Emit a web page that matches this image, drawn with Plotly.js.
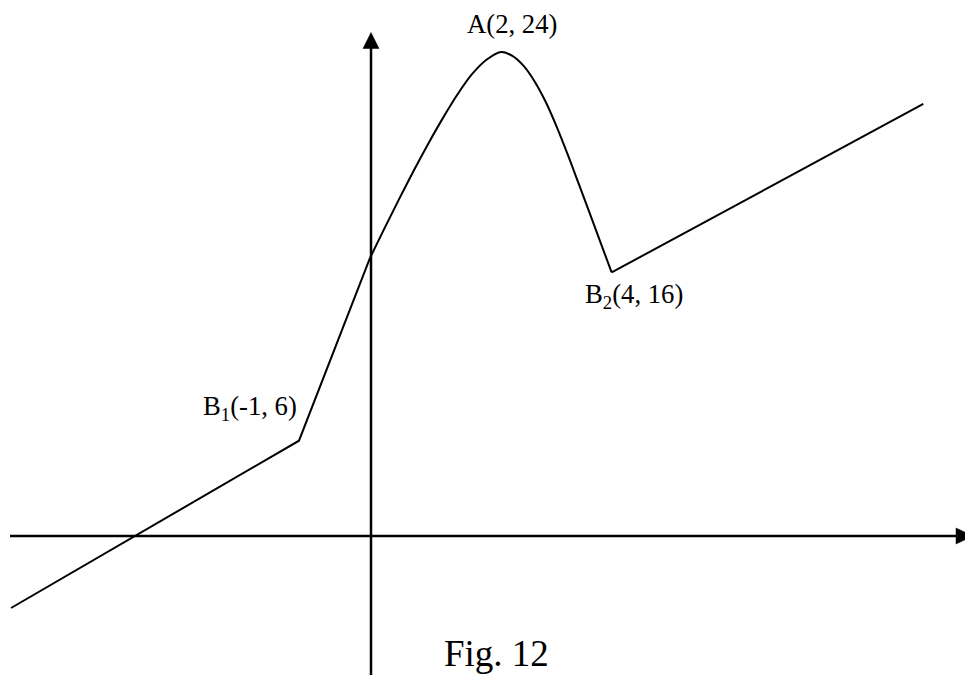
<!DOCTYPE html>
<html>
<head>
<meta charset="utf-8">
<script src="https://cdn.plot.ly/plotly-3.0.1.min.js"></script>
<style>html,body{margin:0;padding:0;background:#fff;}#chart{width:965px;height:675px;}</style>
</head>
<body>
<div id="chart"></div>
<script>
// Schematic figure values (in the figure's own drawn scale)
const leftX = [-5.538, -1.108, -0.015];
const leftY = [-3.573, 4.730, 13.80];

const curveX = [-0.015, 0.209, 0.434, 0.659, 0.883, 1.108, 1.332, 1.557, 1.782, 2.006,
                2.175, 2.345, 2.515, 2.685, 2.854, 3.023, 3.192, 3.363, 3.532, 3.702];
const curveY = [13.80, 15.28, 16.73, 18.14, 19.48, 20.75, 21.92, 22.93, 23.65, 24.02,
                23.83, 23.34, 22.57, 21.56, 20.33, 18.96, 17.51, 16.04, 14.56, 13.08];

const rightX = [3.702, 8.497];
const rightY = [13.08, 21.44];

const pointLabels = ["A(2, 24)", "B<sub>1</sub>(-1, 6)", "B<sub>2</sub>(4, 16)"];
const captionText = "Fig. 12";

const xRange = [-5.7077, 9.1385];
const yRange = [-6.898, 26.600];

const W = 965, H = 675;
function px2x(px) { return xRange[0] + px / W * (xRange[1] - xRange[0]); }
function py2y(py) { return yRange[1] - py / H * (yRange[1] - yRange[0]); }

const traces = [
  {x: leftX, y: leftY, mode: 'lines', line: {color: '#000', width: 2, shape: 'linear', simplify: false}, hoverinfo: 'skip'},
  {x: curveX, y: curveY, mode: 'lines', line: {color: '#000', width: 2, shape: 'spline', smoothing: 1, simplify: false}, hoverinfo: 'skip'},
  {x: rightX, y: rightY, mode: 'lines', line: {color: '#000', width: 2, shape: 'linear', simplify: false}, hoverinfo: 'skip'}
];

// axes with arrowheads (decoration)
const axisLine = {color: '#000', width: 2.5};
const xHead = 'M' + px2x(956) + ',' + py2y(528) + ' L' + px2x(973) + ',' + py2y(536) + ' L' + px2x(956) + ',' + py2y(544) + ' Z';
const yHead = 'M' + px2x(363) + ',' + py2y(48.5) + ' L' + px2x(371) + ',' + py2y(32.5) + ' L' + px2x(379) + ',' + py2y(48.5) + ' Z';
const shapes = [
  {type: 'line', xref: 'x', yref: 'y', x0: px2x(10), x1: px2x(958), y0: 0, y1: 0, line: axisLine},
  {type: 'line', xref: 'x', yref: 'y', x0: 0, x1: 0, y0: py2y(46), y1: py2y(680), line: axisLine},
  {type: 'path', xref: 'x', yref: 'y', path: xHead, fillcolor: '#000', line: {color: '#000', width: 0.5}},
  {type: 'path', xref: 'x', yref: 'y', path: yHead, fillcolor: '#000', line: {color: '#000', width: 0.5}}
];

const serif = "'Liberation Serif', 'Times New Roman', serif";
const labelFont = {family: serif, size: 26.7, color: '#000'};

const layout = {
  width: W, height: H,
  margin: {l: 0, r: 0, t: 0, b: 0, pad: 0},
  paper_bgcolor: '#fff', plot_bgcolor: '#fff',
  showlegend: false,
  xaxis: {range: xRange, visible: false, fixedrange: true},
  yaxis: {range: yRange, visible: false, fixedrange: true},
  shapes: shapes,
  annotations: [
    {xref: 'paper', yref: 'paper', x: 512.3/W, y: 1 - 23.5/H, xanchor: 'center', yanchor: 'middle',
     text: pointLabels[0], showarrow: false, font: labelFont},
    {xref: 'paper', yref: 'paper', x: 249.7/W, y: 1 - 407.5/H, xanchor: 'center', yanchor: 'middle',
     text: pointLabels[1], showarrow: false, font: labelFont},
    {xref: 'paper', yref: 'paper', x: 633.8/W, y: 1 - 296/H, xanchor: 'center', yanchor: 'middle',
     text: pointLabels[2], showarrow: false, font: labelFont},
    {xref: 'paper', yref: 'paper', x: 496.7/W, y: 1 - 653/H, xanchor: 'center', yanchor: 'middle',
     text: captionText, showarrow: false, font: {family: serif, size: 37, color: '#000'}}
  ]
};

Plotly.newPlot('chart', traces, layout, {staticPlot: true, displayModeBar: false});
</script>
</body>
</html>
